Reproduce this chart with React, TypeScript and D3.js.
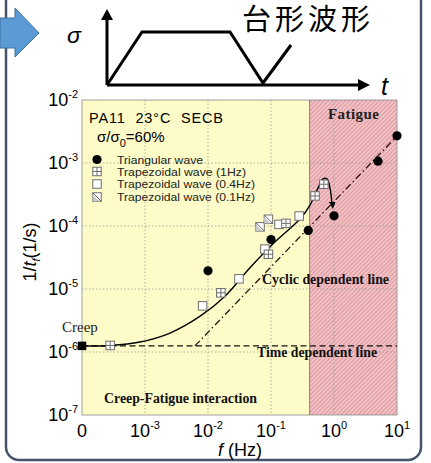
import React from "react";
import * as d3 from "d3";

// ---- data ----
const xTicks = [1e-4, 1e-3, 1e-2, 1e-1, 1, 10];
const xTickBase = ["0", "10", "10", "10", "10", "10"];
const xTickExp = ["", "-3", "-2", "-1", "0", "1"];
const yTicks = [1e-7, 1e-6, 1e-5, 1e-4, 1e-3, 1e-2];
const yTickExp = ["-7", "-6", "-5", "-4", "-3", "-2"];

const triangularF = [0.01, 0.1, 0.39, 1.0, 5, 10];
const triangularRate = [1.95e-5, 6.1e-5, 8.5e-5, 1.45e-4, 1.07e-3, 2.7e-3];

const trap1HzF = [2.8e-4, 0.016, 0.091, 0.173, 0.5, 0.69];
const trap1HzRate = [1.27e-6, 8.7e-6, 3.56e-5, 1.1e-4, 3.0e-4, 4.6e-4];

const trap04F = [8.2e-3, 0.031, 0.08, 0.134, 0.28];
const trap04Rate = [5.4e-6, 1.45e-5, 4.3e-5, 1.06e-4, 1.44e-4];

const trap01F = [0.067, 0.091];
const trap01Rate = [9.7e-5, 1.28e-4];

const creepF = [1e-4];
const creepRate = [1.25e-6];

const curveF = [1e-4, 2.78e-4, 8.3e-4, 2.5e-3, 7.5e-3, 0.0186, 0.046, 0.116, 0.288, 0.416, 0.557, 0.668, 0.774, 0.865, 0.93];
const curveRate = [1.245e-6, 1.27e-6, 1.44e-6, 2.0e-6, 3.7e-6, 7.7e-6, 2.15e-5, 5.6e-5, 1.29e-4, 2.15e-4, 4.0e-4, 5.6e-4, 5.6e-4, 4.0e-4, 2.15e-4];

const timeLineF = [1e-4, 10];
const timeLineRate = [1.25e-6, 1.25e-6];
const cyclicLineF = [6.2e-3, 10];
const cyclicLineRate = [1.25e-6, 2.68e-3];

const fatigueStart = 0.41;

const legendLabels = ["Triangular wave", "Trapezoidal wave (1Hz)", "Trapezoidal wave (0.4Hz)", "Trapezoidal wave (0.1Hz)"];
const legendWidths = [86, 129, 138, 138];

// ---- layout ----
const W = 431, H = 463;
const x = d3.scaleLog().domain([1e-4, 10]).range([82, 397]);
const y = d3.scaleLog().domain([1e-7, 1e-2]).range([415, 100]);

const SANS = "'Liberation Sans', Arial, sans-serif";
const SERIF = "'Liberation Serif', 'Times New Roman', serif";

type Kind = "circle" | "plus" | "open" | "diag" | "filledSq";

function Marker({ cx, cy, kind }: { cx: number; cy: number; kind: Kind }) {
  const s = 8.5, h = s / 2;
  if (kind === "circle") return <circle cx={cx} cy={cy} r={4.6} fill="#000" />;
  if (kind === "filledSq") return <rect x={cx - h} y={cy - h} width={s} height={s} fill="#000" />;
  const box = <rect x={cx - h} y={cy - h} width={s} height={s} fill="#fff" stroke="#6d6d6d" strokeWidth={1} />;
  if (kind === "open") return box;
  if (kind === "plus")
    return (
      <g>
        {box}
        <line x1={cx} x2={cx} y1={cy - h} y2={cy + h} stroke="#6d6d6d" strokeWidth={1} />
        <line x1={cx - h} x2={cx + h} y1={cy} y2={cy} stroke="#6d6d6d" strokeWidth={1} />
      </g>
    );
  return (
    <g>
      {box}
      <path d={`M${cx - h},${cy - h + 2}L${cx + h - 2},${cy + h}L${cx - h},${cy + h}Z`} fill="#c8c8c8" />
      <line x1={cx - h} y1={cy - h} x2={cx + h} y2={cy + h} stroke="#6d6d6d" strokeWidth={1} />
    </g>
  );
}

export default function App() {
  const line = d3.line<[number, number]>().x((d) => x(d[0])).y((d) => y(d[1]));
  const curvePath = d3
    .line<[number, number]>()
    .x((d) => x(d[0]))
    .y((d) => y(d[1]))
    .curve(d3.curveCatmullRom.alpha(0.5))(curveF.map((f, i) => [f, curveRate[i]]));
  const timePath = line(timeLineF.map((f, i) => [f, timeLineRate[i]]));
  const cyclicPath = line(cyclicLineF.map((f, i) => [f, cyclicLineRate[i]]));

  const x0 = x.range()[0], x1 = x.range()[1];
  const yTop = y.range()[1], yBot = y.range()[0];
  const xf = x(fatigueStart);

  const endX = x(curveF[curveF.length - 1]);
  const endY = y(curveRate[curveRate.length - 1]);

  const legendRows = [159.5, 171.5, 184, 197];
  const legendKinds: Kind[] = ["circle", "plus", "open", "diag"];

  return (
    <svg width={W} height={H} style={{ position: "absolute", left: 0, top: 0, background: "#fff" }}>
      <defs>
        <pattern id="hatch" width="3" height="3" patternUnits="userSpaceOnUse" patternTransform="rotate(45)">
          <rect width="3" height="3" fill="#f0c3c6" />
          <line x1="0" y1="0" x2="0" y2="3" stroke="#d06a74" strokeWidth="1" />
        </pattern>
        <clipPath id="plotClip">
          <rect x={x0} y={yTop} width={x1 - x0} height={yBot - yTop} />
        </clipPath>
      </defs>

      {/* outer frame */}
      <rect x={6} y={-14} width={415} height={474} rx={13} fill="none" stroke="#44546a" strokeWidth={2.5} />

      {/* blue arrow */}
      <polygon points="0,18 15,18 15,8 39,33 15,57 15,48 0,48" fill="#5b9bd5" stroke="#41719c" strokeWidth={1} />

      {/* inset trapezoid */}
      <g stroke="#000" strokeWidth={3} fill="none">
        <line x1={107} y1={85} x2={107} y2={18} />
        <line x1={107} y1={85} x2={360} y2={85} />
        <polyline points="107,85 142,32 230,32 263,83 291,45" strokeLinejoin="miter" />
      </g>
      <polygon points="107,9 101,20 113,20" fill="#000" />
      <polygon points="370,85 358,79 358,91" fill="#000" />
      <text x={67} y={43} fontFamily={SANS} fontStyle="italic" fontSize={23}>σ</text>
      <text x={381} y={95} fontFamily={SANS} fontStyle="italic" fontSize={25}>t</text>
      <text x={242} y={30} fontFamily="'Noto Sans CJK JP', sans-serif" fontSize={29} textLength={128} lengthAdjust="spacing">台形波形</text>

      {/* plot backgrounds */}
      <rect x={x0} y={yTop} width={x1 - x0} height={yBot - yTop} fill="#fdfcc9" />
      <rect x={xf} y={yTop} width={x1 - xf} height={yBot - yTop} fill="url(#hatch)" />

      {/* grid */}
      <g stroke="#9a9a9a" strokeWidth={0.8} strokeDasharray="1.5,2">
        {xTicks.slice(1, -1).map((t, i) => (
          <line key={"gx" + i} x1={x(t)} x2={x(t)} y1={yTop} y2={yBot} />
        ))}
        {yTicks.slice(1, -1).map((t, i) => (
          <line key={"gy" + i} x1={x0} x2={x1} y1={y(t)} y2={y(t)} />
        ))}
      </g>
      <rect x={x0} y={yTop} width={x1 - x0} height={yBot - yTop} fill="none" stroke="#8a8a8a" strokeWidth={0.8} />
      <line x1={xf} x2={xf} y1={yTop} y2={yBot} stroke="#8a6060" strokeWidth={0.8} />

      {/* lines */}
      <g clipPath="url(#plotClip)">
        <path d={timePath || ""} fill="none" stroke="#111" strokeWidth={1.3} strokeDasharray="6,3.5" />
        <path d={cyclicPath || ""} fill="none" stroke="#2a1010" strokeWidth={1.3} strokeDasharray="7,3,1.5,3" />
        <path d={curvePath || ""} fill="none" stroke="#000" strokeWidth={1.4} />
      </g>
      <polygon points={`${endX - 3},${endY - 3} ${endX + 3.5},${endY - 3} ${endX + 0.8},${endY + 4}`} fill="#000" />

      {/* markers */}
      {trap04F.map((f, i) => <Marker key={"o" + i} cx={x(f)} cy={y(trap04Rate[i])} kind="open" />)}
      {trap01F.map((f, i) => <Marker key={"d" + i} cx={x(f)} cy={y(trap01Rate[i])} kind="diag" />)}
      {trap1HzF.map((f, i) => <Marker key={"p" + i} cx={x(f)} cy={y(trap1HzRate[i])} kind="plus" />)}
      {triangularF.map((f, i) => <Marker key={"c" + i} cx={x(f)} cy={y(triangularRate[i])} kind="circle" />)}
      {creepF.map((f, i) => <Marker key={"s" + i} cx={x(f)} cy={y(creepRate[i])} kind="filledSq" />)}

      {/* annotations */}
      <text x={89} y={123} fontFamily={SANS} fontSize={14.5} textLength={134} lengthAdjust="spacing" style={{ whiteSpace: "pre" }}>PA11  23°C  SECB</text>
      <text x={97} y={142} fontFamily={SANS} fontSize={15}>
        σ/σ<tspan fontSize={11} dy={5}>0</tspan><tspan dy={-5}>=60%</tspan>
      </text>
      {legendLabels.map((l, i) => (
        <g key={"lg" + i}>
          <Marker cx={97} cy={legendRows[i]} kind={legendKinds[i]} />
          <text x={117} y={legendRows[i] + 4} fontFamily={SANS} fontSize={11} textLength={legendWidths[i]} lengthAdjust="spacingAndGlyphs" fill="#222">{l}</text>
        </g>
      ))}
      <text x={328} y={119} fontFamily={SERIF} fontWeight="bold" fontSize={15} textLength={51} lengthAdjust="spacing" fill="#222">Fatigue</text>
      <text x={262} y={284} fontFamily={SERIF} fontWeight="bold" fontSize={13.8} textLength={127} lengthAdjust="spacingAndGlyphs" fill="#111">Cyclic dependent line</text>
      <text x={257} y={357} fontFamily={SERIF} fontWeight="bold" fontSize={13.6} textLength={120} lengthAdjust="spacingAndGlyphs" fill="#111">Time dependent line</text>
      <text x={104} y={403} fontFamily={SERIF} fontWeight="bold" fontSize={13.8} textLength={153} lengthAdjust="spacingAndGlyphs" fill="#111">Creep-Fatigue interaction</text>
      <text x={62} y={332} fontFamily={SERIF} fontSize={15} fill="#222">Creep</text>

      {/* y tick labels */}
      {yTicks.map((t, i) => (
        <text key={"yl" + i} x={78} y={y(t) + 6} textAnchor="end" fontFamily={SANS} fontSize={18}>
          10<tspan fontSize={11} dy={-8}>{yTickExp[i]}</tspan>
        </text>
      ))}
      {/* x tick labels */}
      {xTicks.map((t, i) => (
        <text key={"xl" + i} x={x(t)} y={437} textAnchor="middle" fontFamily={SANS} fontSize={18}>
          {xTickBase[i]}
          {xTickExp[i] && <tspan fontSize={11} dy={-8}>{xTickExp[i]}</tspan>}
        </text>
      ))}
      <text x={240} y={456} textAnchor="middle" fontFamily={SANS} fontSize={18}>
        <tspan fontStyle="italic">f</tspan> (Hz)
      </text>
      <text transform="translate(36,252) rotate(-90)" textAnchor="middle" fontFamily={SANS} fontSize={18}>
        1/<tspan fontStyle="italic">t</tspan><tspan fontStyle="italic" fontSize={11} dy={4}>f</tspan><tspan dy={-4}>(1/s)</tspan>
      </text>
    </svg>
  );
}
